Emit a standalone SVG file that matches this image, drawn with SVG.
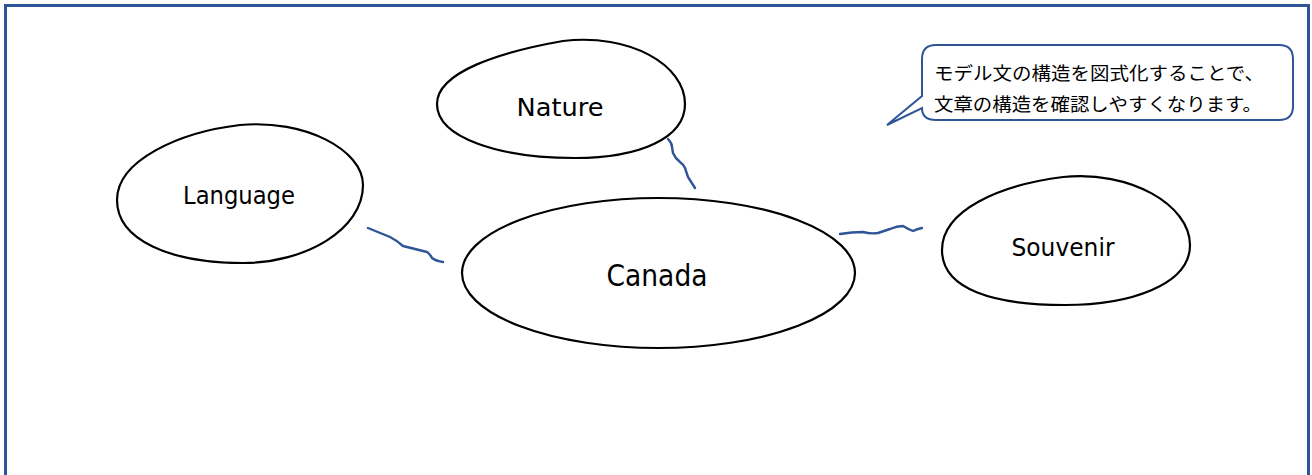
<svg xmlns="http://www.w3.org/2000/svg" width="1312" height="475" viewBox="0 0 1312 475">
<style>
.blob{fill:#fff;stroke:#000;stroke-width:2.2}
.lbl{font-family:"DejaVu Sans","Liberation Sans",sans-serif;fill:#000;text-anchor:middle}
.conn{fill:none;stroke:#2F5597;stroke-width:2.4;stroke-linecap:round;stroke-linejoin:round}
.jp{font-family:"Noto Sans CJK JP","Noto Sans CJK SC",sans-serif;font-size:18.5px;fill:#000}
</style>
<rect x="0" y="0" width="1312" height="475" fill="#fff"/>
<path d="M5.5,475 V5.5 H1308.5 V475" fill="none" stroke="#2F5597" stroke-width="3"/>
<g id="connectors">
<path class="conn" d="M368,228 L390,237 Q396,240 403,246 L427,252 Q430,254 432,258 Q436,261 443,262"/>
<path class="conn" d="M668,139 Q672,143 672,147 L673,153 Q675,158 680,162 Q684,165 685,168 L688,177 L695,188"/>
<path class="conn" d="M840,234 Q852,232 863,232 Q870,234 878,233 Q884,231 890,229 Q897,226 903,226 Q908,229 913,231 Q917,229 922,228"/>
</g>
<g id="node-nature">
<path class="blob" d="M437,104 C437,72 500,52 563,41 C630,33 685,65 685,104 C685,138 640,158 575,158 C500,158 437,138 437,104 Z"/>
<text class="lbl" x="560" y="116" font-size="24" textLength="87" lengthAdjust="spacingAndGlyphs">Nature</text>
</g>
<g id="node-language">
<path class="blob" d="M117,200 C117,160 180,132 240,125 C305,119 363,150 363,185 C363,230 305,263 243,263 C170,263 117,240 117,200 Z"/>
<text class="lbl" x="239" y="204" font-size="24" textLength="112" lengthAdjust="spacingAndGlyphs">Language</text>
</g>
<g id="node-canada">
<ellipse class="blob" cx="658.5" cy="273" rx="196.5" ry="75"/>
<text class="lbl" x="657" y="286" font-size="30" textLength="101" lengthAdjust="spacingAndGlyphs">Canada</text>
</g>
<g id="node-souvenir">
<path class="blob" d="M942,250 C942,210 1000,185 1063,177 C1130,170 1190,205 1190,245 C1190,285 1130,305 1065,305 C995,305 942,290 942,250 Z"/>
<text class="lbl" x="1063" y="256" font-size="24" textLength="103" lengthAdjust="spacingAndGlyphs">Souvenir</text>
</g>
<g id="callout">
<path d="M936,45 H1279 Q1293,45 1293,59 V106 Q1293,120 1279,120 H936 Q922,120 922,108 L887,125 L922,96 V59 Q922,45 936,45 Z" fill="#fff" stroke="#2F5597" stroke-width="2"/>
<text class="jp" x="934" y="80" textLength="330" lengthAdjust="spacingAndGlyphs">モデル文の構造を図式化することで、</text>
<text class="jp" x="934" y="111" textLength="328" lengthAdjust="spacingAndGlyphs">文章の構造を確認しやすくなります。</text>
</g>
</svg>
